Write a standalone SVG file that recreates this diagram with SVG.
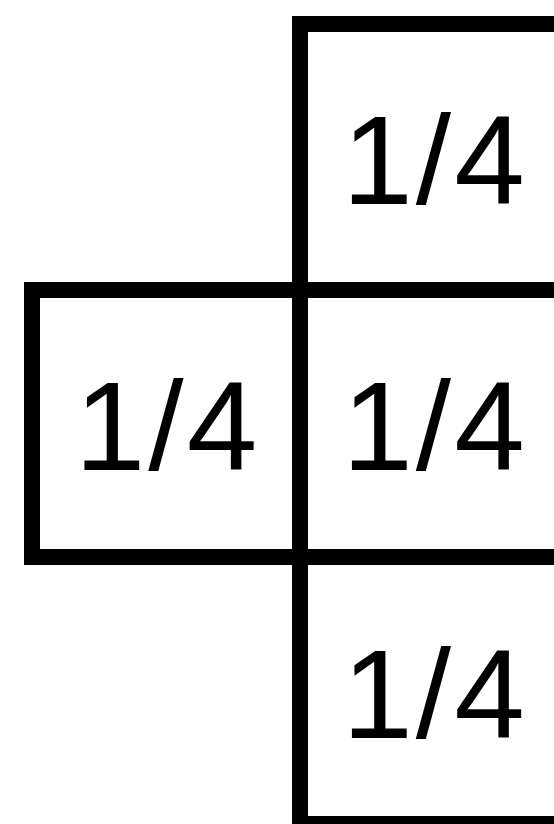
<svg xmlns="http://www.w3.org/2000/svg" width="554" height="824" viewBox="0 0 554 824">
<style>
.box{fill:#fff;stroke:#000;stroke-width:16}
.lbl{font-family:"Liberation Sans",Arial,sans-serif;font-size:127px;letter-spacing:3px;fill:#000;text-anchor:middle}
</style>
<rect width="554" height="824" fill="#fff"/>
<g id="top"><rect class="box" x="300" y="24" width="267" height="266"/><text class="lbl" x="435" y="204">1/4</text></g>
<g id="left"><rect class="box" x="32" y="290" width="268" height="267"/><text class="lbl" x="167.5" y="470">1/4</text></g>
<g id="middle"><rect class="box" x="300" y="290" width="267" height="267"/><text class="lbl" x="435" y="470">1/4</text></g>
<g id="bottom"><rect class="box" x="300" y="557" width="267" height="267"/><text class="lbl" x="435" y="738">1/4</text></g>
<g id="connectors"/>
</svg>
